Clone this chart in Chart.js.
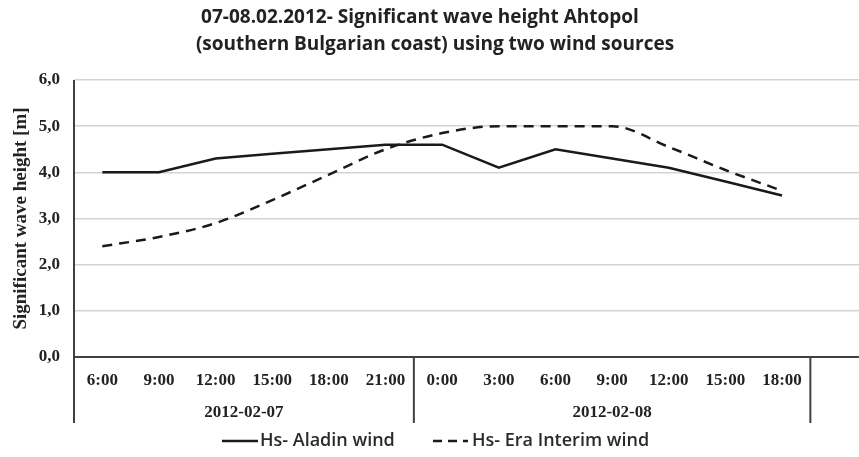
<!DOCTYPE html>
<html>
<head>
<meta charset="utf-8">
<script src="https://cdn.jsdelivr.net/npm/chart.js@4.4.0/dist/chart.umd.min.js"></script>
<style>
	html, body { margin: 0; padding: 0; background: #fff; overflow: hidden; }
	#wrap { width: 867px; height: 457px; position: relative; }
</style>
</head>
<body>
<div id="wrap"><canvas id="waveChart"></canvas></div>
<script>
// Data
var hours = ["6:00", "9:00", "12:00", "15:00", "18:00", "21:00", "0:00", "3:00", "6:00", "9:00", "12:00", "15:00", "18:00", ""];
var days = ["2012-02-07", "2012-02-08"];
var dayStart = [0, 6];
var dayEnd = [5, 12];
var aladin = [4.0, 4.0, 4.3, 4.4, 4.5, 4.6, 4.6, 4.1, 4.5, 4.3, 4.1, 3.8, 3.5, null];
var eraInterim = [2.4, 2.6, 2.9, 3.4, 3.95, 4.5, 4.85, 5.0, 5.0, 5.0, 4.55, 4.05, 3.6, null];
var titleLines = ["07-08.02.2012- Significant wave height Ahtopol", "(southern Bulgarian coast) using two wind sources"];
var seriesNames = ["Hs- Aladin wind", "Hs- Era Interim wind"];

var serif = "'Liberation Serif', 'Times New Roman', serif";
var sans = "'Open Sans', 'Noto Sans', sans-serif";

// Title, grouped category axis and legend
var extras = {
	id: 'extras',
	afterDraw: function(chart) {
		var c = chart.ctx;
		var area = chart.chartArea;
		var x = chart.scales.x;
		c.save();

		// title
		c.fillStyle = '#222';
		c.font = "bold 19px " + sans;
		c.textAlign = 'center';
		c.textBaseline = 'middle';
		c.fillText(titleLines[0], 420, 18);
		c.fillText(titleLines[1], 435, 45);

		// axis box lines
		c.strokeStyle = '#404040';
		c.lineWidth = 2;
		c.beginPath();
		c.moveTo(area.left, area.top);
		c.lineTo(area.left, area.bottom + 66);
		for (var i = 0; i < days.length; i++) {
			var bx = (x.getPixelForValue(dayEnd[i]) + x.getPixelForValue(dayEnd[i] + 1)) / 2;
			c.moveTo(bx, area.bottom);
			c.lineTo(bx, area.bottom + 66);
		}
		c.stroke();

		// day labels
		c.fillStyle = '#222';
		c.font = "bold 17px " + serif;
		for (var i = 0; i < days.length; i++) {
			var l = i === 0 ? area.left : (x.getPixelForValue(dayStart[i]) + x.getPixelForValue(dayStart[i] - 1)) / 2;
			var r = (x.getPixelForValue(dayEnd[i]) + x.getPixelForValue(dayEnd[i] + 1)) / 2;
			c.fillText(days[i], (l + r) / 2, 413);
		}

		// legend
		var ly = 441;
		c.strokeStyle = '#1a1a1a';
		c.lineWidth = 2.5;
		c.beginPath();
		c.moveTo(222, ly);
		c.lineTo(258, ly);
		c.stroke();
		c.setLineDash([9, 6]);
		c.beginPath();
		c.moveTo(433, ly);
		c.lineTo(468, ly);
		c.stroke();
		c.setLineDash([]);
		c.fillStyle = '#2a2a2a';
		c.font = "600 18px " + sans;
		c.textAlign = 'left';
		c.fillText(seriesNames[0], 260, ly);
		c.fillText(seriesNames[1], 472, ly);
		c.restore();
	}
};

var ctx = document.getElementById("waveChart");
var waveChart = new Chart(ctx, {
	type: 'line',
	data: {
		labels: hours,
		datasets: [{
			label: seriesNames[0],
			data: aladin,
			borderColor: '#1a1a1a',
			borderWidth: 2.5,
			pointRadius: 0,
			tension: 0,
			fill: false
		}, {
			label: seriesNames[1],
			data: eraInterim,
			borderColor: '#1a1a1a',
			borderWidth: 2.5,
			borderDash: [10, 7],
			pointRadius: 0,
			cubicInterpolationMode: 'monotone',
			fill: false
		}]
	},
	options: {
		responsive: true,
		maintainAspectRatio: false,
		animation: false,
		layout: {
			padding: { top: 80, left: 0, right: 0, bottom: 0 }
		},
		plugins: {
			legend: { display: false },
			title: { display: false },
			tooltip: { enabled: false }
		},
		scales: {
			x: {
				offset: true,
				grid: { display: false },
				border: { display: true, color: '#404040', width: 2 },
				ticks: {
					color: '#222',
					padding: 5,
					maxRotation: 0,
					autoSkip: false,
					font: { family: serif, size: 17, weight: 'bold' }
				},
				afterFit: function(scale) { scale.height = 100; }
			},
			y: {
				min: 0,
				max: 6,
				grid: { color: '#d4d4d4', lineWidth: 1.5, drawTicks: false },
				border: { display: false },
				ticks: {
					stepSize: 1,
					color: '#222',
					padding: 14,
					font: { family: serif, size: 17, weight: 'bold' },
					callback: function(v) { return v.toFixed(1).replace('.', ','); }
				},
				title: {
					display: true,
					text: 'Significant wave height [m]',
					color: '#222',
					padding: { top: 10, bottom: 0 },
					font: { family: serif, size: 19, weight: 'bold' }
				},
				afterFit: function(scale) { scale.width = 74; }
			}
		}
	},
	plugins: [extras]
});
</script>
</body>
</html>
